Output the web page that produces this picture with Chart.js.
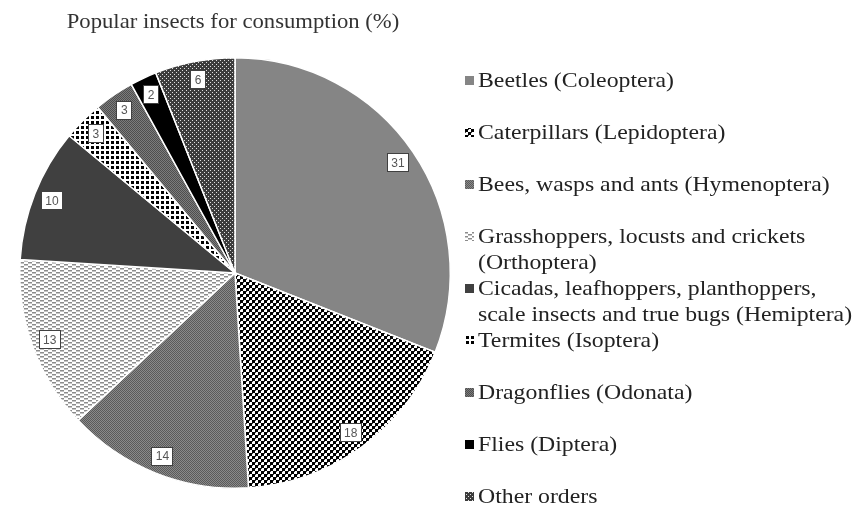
<!DOCTYPE html>
<html>
<head>
<meta charset="utf-8">
<script src="https://cdn.jsdelivr.net/npm/chart.js@4.4.0/dist/chart.umd.min.js"></script>
<style>
  html, body { margin: 0; padding: 0; background: #fff; }
  canvas { display: block; }
</style>
</head>
<body>
<canvas id="myChart" width="855" height="507"></canvas>
<script>
const chartTitle = 'Popular insects for consumption (%)';
const categories = [
  'Beetles (Coleoptera)',
  'Caterpillars (Lepidoptera)',
  'Bees, wasps and ants (Hymenoptera)',
  'Grasshoppers, locusts and crickets\n(Orthoptera)',
  'Cicadas, leafhoppers, planthoppers,\nscale insects and true bugs (Hemiptera)',
  'Termites (Isoptera)',
  'Dragonflies (Odonata)',
  'Flies (Diptera)',
  'Other orders'
];
const shares = [31, 18, 14, 13, 10, 3, 3, 2, 6];

// small tiles used as fills, like the hatch fills of the original
function makePattern(size, bg, dots) {
  const c = document.createElement('canvas');
  c.width = size[0];
  c.height = size[1];
  const g = c.getContext('2d');
  g.fillStyle = bg;
  g.fillRect(0, 0, size[0], size[1]);
  dots.forEach(d => {
    g.fillStyle = d[4];
    g.fillRect(d[0], d[1], d[2], d[3]);
  });
  return g.createPattern(c, 'repeat');
}

const fills = [
  '#858585',
  makePattern([6, 6], '#fff', [[0, 0, 3, 3, '#000'], [3, 3, 3, 3, '#000'], [0, 3, 1, 1, '#444'], [3, 0, 1, 1, '#444']]),
  makePattern([2, 2], '#8a8a8a', [[0, 0, 1, 1, '#5a5a5a'], [1, 1, 1, 1, '#5a5a5a']]),
  makePattern([8, 4], '#fff', [[0, 0, 4, 1.5, '#8c8c8c'], [4, 2, 4, 1.5, '#8c8c8c']]),
  '#404040',
  makePattern([5, 5], '#fff', [[1, 1, 3, 3, '#000']]),
  makePattern([2, 2], '#7c7c7c', [[0, 0, 1, 1, '#4e4e4e'], [1, 1, 1, 1, '#4e4e4e']]),
  '#000',
  makePattern([4, 4], '#3c3c3c', [[0, 0, 1, 1, '#e0e0e0'], [2, 2, 1, 1, '#e0e0e0']])
];

// the original picture is a little wider than tall, text included
const stretchX = 1.08;

function drawWide(ctx, text, x, y) {
  ctx.save();
  ctx.translate(x, y);
  ctx.scale(stretchX, 1);
  ctx.fillText(text, 0, 0);
  ctx.restore();
}

const titlePlugin = {
  id: 'titlePlugin',
  afterDraw(chart) {
    const { ctx } = chart;
    ctx.save();
    ctx.fillStyle = '#333';
    ctx.font = '21px "Liberation Serif"';
    ctx.textAlign = 'center';
    ctx.textBaseline = 'middle';
    drawWide(ctx, chartTitle, 233, 22);
    ctx.restore();
  }
};

const legendPlugin = {
  id: 'legendPlugin',
  afterDraw(chart) {
    const { ctx } = chart;
    const labels = chart.data.labels;
    const bgs = chart.data.datasets[0].backgroundColor;
    ctx.save();
    ctx.font = '22px "Liberation Serif"';
    ctx.textBaseline = 'middle';
    labels.forEach((label, i) => {
      const y = 80 + i * 52;
      ctx.fillStyle = bgs[i];
      ctx.fillRect(465, y - 4, 9, 9);
      ctx.fillStyle = '#222';
      label.split('\n').forEach((line, j) => {
        drawWide(ctx, line, 478, y + 1 + j * 26);
      });
    });
    ctx.restore();
  }
};

const valueLabels = {
  id: 'valueLabels',
  afterDatasetsDraw(chart) {
    const { ctx } = chart;
    const meta = chart.getDatasetMeta(0);
    const data = chart.data.datasets[0].data;
    ctx.save();
    ctx.font = '12px "Liberation Sans"';
    ctx.textAlign = 'center';
    ctx.textBaseline = 'middle';
    meta.data.forEach((arc, i) => {
      const mid = (arc.startAngle + arc.endAngle) / 2;
      const r = arc.outerRadius * 0.915;
      const x = arc.x + Math.cos(mid) * r;
      const y = arc.y + Math.sin(mid) * r;
      const text = String(data[i]);
      const w = Math.round(ctx.measureText(text).width + 9);
      const h = 19;
      const bx = Math.round(x - w / 2);
      const by = Math.round(y - h / 2);
      ctx.fillStyle = '#fff';
      ctx.fillRect(bx, by, w, h);
      ctx.strokeStyle = '#404040';
      ctx.lineWidth = 1;
      ctx.strokeRect(bx + 0.5, by + 0.5, w - 1, h - 1);
      ctx.fillStyle = '#555';
      ctx.fillText(text, x, y + 1);
    });
    ctx.restore();
  }
};

new Chart(document.getElementById('myChart'), {
  type: 'pie',
  data: {
    labels: categories,
    datasets: [{
      data: shares,
      backgroundColor: fills,
      borderColor: '#fff',
      borderWidth: 1.5
    }]
  },
  options: {
    responsive: false,
    animation: false,
    layout: {
      padding: { left: 17, right: 402, top: 57, bottom: 18 }
    },
    plugins: {
      legend: { display: false },
      title: { display: false },
      tooltip: { enabled: false }
    }
  },
  plugins: [valueLabels, titlePlugin, legendPlugin]
});
</script>
</body>
</html>
